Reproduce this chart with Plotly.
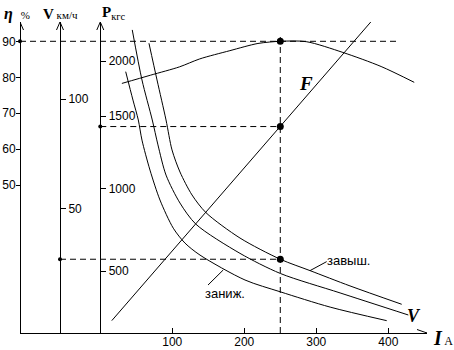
import numpy as np
import plotly.graph_objects as go

# ---- data -------------------------------------------------------------
# armature current axis, A
I_TICKS = [100, 200, 300, 400]

# efficiency eta(I), %
ETA_I = [30, 70, 110, 138, 180, 219, 250, 286, 337, 390, 436]
ETA_PCT = [78.3, 80.6, 82.9, 85.1, 87.4, 89.4, 90.0, 89.9, 86.9, 83.0, 78.6]

# speed characteristics V(I), km/h : raised ("завыш."), nominal (V), lowered ("заниж.")
V_HIGH_I = [67.6, 78.8, 91.3, 99.6, 110.7, 127.4, 146.8, 194, 250, 291.3, 346.8, 418.6]
V_HIGH_KMH = [125.5, 108.7, 90.4, 76.7, 66.6, 56.1, 48.0, 36.4, 26.7, 21.5, 14.5, 6.1]

V_NOM_I = [44.4, 57.9, 72.2, 80.1, 91.3, 110.7, 132.9, 194, 250, 333, 427.8]
V_NOM_KMH = [131.6, 108.7, 90.4, 79.0, 65.2, 52.4, 42.7, 29.4, 20.2, 11.3, 1.2]

V_LOW_I = [35.3, 45.4, 52.8, 57.9, 69.0, 82.9, 101.4, 117.6, 138.5, 201, 250, 319.3, 397.8]
V_LOW_KMH = [112.5, 99.5, 90.4, 81.2, 67.5, 53.8, 40.9, 34.1, 28.6, 17.2, 11.8, 4.8, -1.4]

# tractive force F(I), kgf
F_I = [16, 383]
F_KGF = [200, 2410]

# operating point
I_OP = 250
ETA_OP = 90
F_OP = 1427
V_OP = 26.7

# axis ticks
ETA_TICKS = [50, 60, 70, 80, 90]
V_TICKS = [50, 100]
P_TICKS = [500, 1000, 1500, 2000]

# ---- scales -----------------------------------------------------------
PLOT_W, PLOT_H = 407, 311
X_RANGE = [-111.5, 453.75]
ETA_RANGE = [8.97, 95.36]
V_RANGE = [-7.04, 135.22]
P_RANGE = [0, 311]
# the force scale is drawn non-uniform: knots of the scale
P_KNOTS = [0, 500, 1000, 1500, 2000, 2500]
P_KNOT_POS = [-20.7, 62, 144.7, 217, 272, 327]


def p_axis(p):
    return np.interp(p, P_KNOTS, P_KNOT_POS)


X_SPAN = X_RANGE[1] - X_RANGE[0]
ETA_SPAN = ETA_RANGE[1] - ETA_RANGE[0]
POS_ETA = 0.0
POS_V = 0.0983
POS_P = (0 - X_RANGE[0]) / X_SPAN
I_AT_V_AXIS = X_RANGE[0] + POS_V * X_SPAN

BLACK = "#000"
NUM_FONT = dict(family="Liberation Sans, Arial, sans-serif", size=12, color=BLACK)
SERIF = "Liberation Serif, DejaVu Serif, serif"
SANS = "Liberation Sans, DejaVu Sans, sans-serif"
DASH = "6px,4px"

fig = go.Figure()

line = dict(color=BLACK, width=1)
dline = dict(color=BLACK, width=1, dash=DASH)

# dashed guides through the operating point
fig.add_trace(go.Scatter(x=[X_RANGE[0], 414], y=[ETA_OP, ETA_OP], mode="lines",
                         line=dline, yaxis="y", hoverinfo="skip"))
fig.add_trace(go.Scatter(x=[I_OP, I_OP], y=[ETA_RANGE[0], 92.3], mode="lines",
                         line=dline, yaxis="y", hoverinfo="skip"))
fig.add_trace(go.Scatter(x=[0, I_OP], y=[p_axis(F_OP)] * 2, mode="lines",
                         line=dline, yaxis="y3", hoverinfo="skip"))
fig.add_trace(go.Scatter(x=[I_AT_V_AXIS, I_OP], y=[V_OP, V_OP], mode="lines",
                         line=dline, yaxis="y2", hoverinfo="skip"))

# efficiency
fig.add_trace(go.Scatter(x=ETA_I, y=ETA_PCT, mode="lines", line=dict(line, shape="spline", smoothing=0.8),
                         yaxis="y"))
# tractive force
fig.add_trace(go.Scatter(x=F_I, y=p_axis(F_KGF), mode="lines", line=line, yaxis="y3"))
# speed curves
for xs, ys in [(V_HIGH_I, V_HIGH_KMH), (V_NOM_I, V_NOM_KMH), (V_LOW_I, V_LOW_KMH)]:
    fig.add_trace(go.Scatter(x=xs, y=ys, mode="lines", line=dict(line, shape="spline", smoothing=0.8),
                             yaxis="y2"))

# points
big = dict(color=BLACK, size=7)
small = dict(color=BLACK, size=4)
fig.add_trace(go.Scatter(x=[I_OP], y=[ETA_OP], mode="markers", marker=big, yaxis="y", cliponaxis=False))
fig.add_trace(go.Scatter(x=[X_RANGE[0]], y=[ETA_OP], mode="markers", marker=small, yaxis="y", cliponaxis=False))
fig.add_trace(go.Scatter(x=[I_OP], y=[p_axis(F_OP)], mode="markers", marker=big, yaxis="y3", cliponaxis=False))
fig.add_trace(go.Scatter(x=[0], y=[p_axis(F_OP)], mode="markers", marker=small, yaxis="y3", cliponaxis=False))
fig.add_trace(go.Scatter(x=[I_OP], y=[V_OP], mode="markers", marker=big, yaxis="y2", cliponaxis=False))
fig.add_trace(go.Scatter(x=[I_AT_V_AXIS], y=[V_OP], mode="markers", marker=small, yaxis="y2", cliponaxis=False))

# open arrowheads at the ends of the axes (px sizes converted to axis units)
ux = X_SPAN / PLOT_W
uy = ETA_SPAN / PLOT_H
for pos in (POS_ETA, POS_V, POS_P):
    xa = X_RANGE[0] + pos * X_SPAN
    fig.add_trace(go.Scatter(x=[xa - 3.5 * ux, xa, xa + 3.5 * ux],
                             y=[ETA_RANGE[1] - 8 * uy, ETA_RANGE[1], ETA_RANGE[1] - 8 * uy],
                             mode="lines", line=line, yaxis="y", cliponaxis=False, hoverinfo="skip"))
fig.add_trace(go.Scatter(x=[X_RANGE[1] - 10 * ux, X_RANGE[1], X_RANGE[1] - 10 * ux],
                         y=[ETA_RANGE[0] + 3.5 * uy, ETA_RANGE[0], ETA_RANGE[0] - 3.5 * uy],
                         mode="lines", line=line, yaxis="y", cliponaxis=False, hoverinfo="skip"))

axis_common = dict(showgrid=False, zeroline=False, showline=True, linecolor=BLACK, linewidth=1,
                   ticks="outside", ticklen=5, tickcolor=BLACK, tickwidth=1, tickfont=NUM_FONT,
                   fixedrange=True, automargin=False)

fig.update_layout(
    width=454, height=350,
    margin=dict(l=20, r=27, t=22, b=17, autoexpand=False),
    paper_bgcolor="white", plot_bgcolor="white",
    showlegend=False,
    xaxis=dict(axis_common, range=X_RANGE, tickvals=I_TICKS, ticks="inside", anchor="y",
               ticklabelstandoff=-2),
    yaxis=dict(axis_common, range=ETA_RANGE, tickvals=ETA_TICKS, ticklen=4, ticklabelstandoff=-2,
               anchor="free", position=POS_ETA, side="left"),
    yaxis2=dict(axis_common, range=V_RANGE, tickvals=V_TICKS, anchor="free",
                position=POS_V, side="right", overlaying="y"),
    yaxis3=dict(axis_common, range=P_RANGE, tickvals=list(p_axis(P_TICKS)),
                ticktext=[str(p) for p in P_TICKS], anchor="free",
                position=POS_P, side="right", overlaying="y"),
)

# leader lines for the curve labels
fig.add_shape(type="line", xref="x", yref="y2", x0=291.3, y0=21.5, x1=314.4, y1=25.6,
              line=dict(color=BLACK, width=1))
fig.add_shape(type="line", xref="x", yref="y2", x0=149.6, y0=14.9, x1=170.8, y1=21.8,
              line=dict(color=BLACK, width=1))

ann = []
# axis titles
ann.append(dict(xref="paper", yref="paper", x=-0.045, y=1.025, xanchor="left", yanchor="middle",
                text="<b><i>η</i></b>  <span style='font-size:11px'>%</span>",
                font=dict(family=SERIF, size=16, color=BLACK), showarrow=False))
ann.append(dict(xref="paper", yref="paper", x=0.051, y=1.025, xanchor="left", yanchor="middle",
                text="<b>V</b><span style='font-size:11px'> км/ч</span>",
                font=dict(family=SERIF, size=15, color=BLACK), showarrow=False))
ann.append(dict(xref="paper", yref="paper", x=0.196, y=1.03, xanchor="left", yanchor="middle",
                text="<b>P</b><sub>кгс</sub>",
                font=dict(family=SERIF, size=15, color=BLACK), showarrow=False))
# x axis title
ann.append(dict(xref="paper", yref="paper", x=1.011, y=-0.015, xanchor="left", yanchor="middle",
                text="<b><i>I</i></b><span style='font-size:12px'> A</span>",
                font=dict(family=SERIF, size=20, color=BLACK), showarrow=False))
# curve labels
ann.append(dict(xref="x", yref="y", x=285.7, y=78.4, text="<b><i>F</i></b>",
                font=dict(family=SERIF, size=19, color=BLACK), showarrow=False))
ann.append(dict(xref="x", yref="y2", x=435.5, y=0.7, text="<b><i>V</i></b>",
                font=dict(family=SERIF, size=18, color=BLACK), showarrow=False))
ann.append(dict(xref="x", yref="y2", x=312.1, y=26.3, xanchor="left", text="завыш.",
                font=dict(family=SANS, size=13, color=BLACK), showarrow=False))
ann.append(dict(xref="x", yref="y2", x=143.1, y=11.25, xanchor="left", text="заниж.",
                font=dict(family=SANS, size=13, color=BLACK), showarrow=False))
fig.update_layout(annotations=ann)

fig.write_html("out.html")
